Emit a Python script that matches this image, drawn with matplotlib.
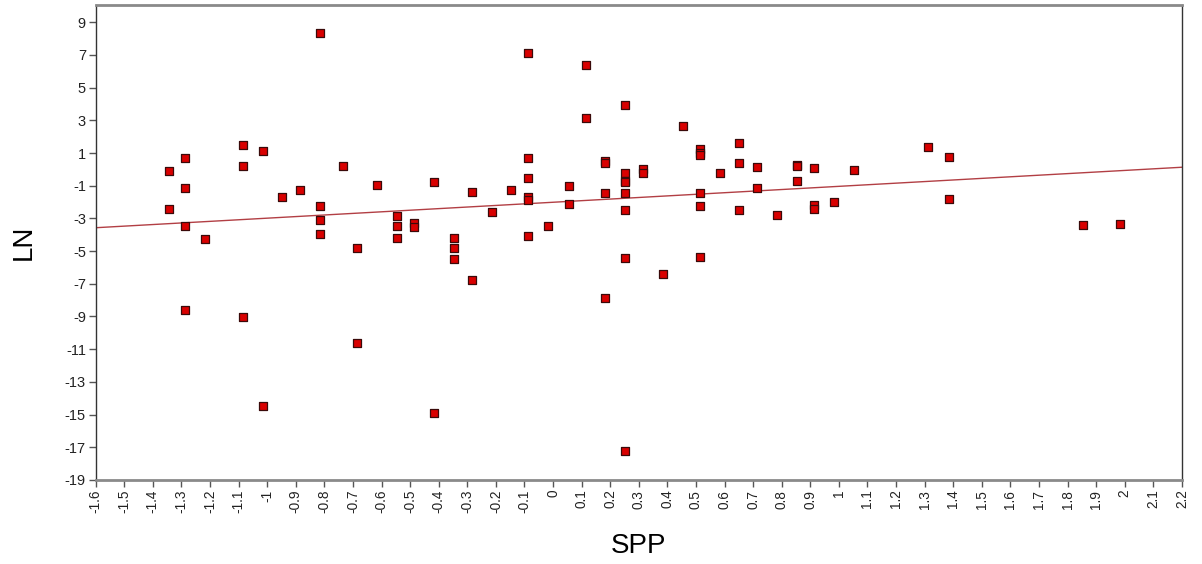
import matplotlib
matplotlib.use("Agg")
import matplotlib.pyplot as plt
import numpy as np

plt.rcParams['font.family'] = ['Liberation Sans', 'DejaVu Sans']
plt.rcParams['axes.unicode_minus'] = False

# Data
spp = [
    -1.345, -1.345,
    -1.288, -1.288, -1.288, -1.288,
    -1.216,
    -1.086, -1.086, -1.086,
    -1.015, -1.015,
    -0.948,
    -0.886,
    -0.815, -0.815, -0.815, -0.815,
    -0.734,
    -0.687, -0.687,
    -0.616,
    -0.545, -0.545, -0.545,
    -0.485, -0.485,
    -0.416, -0.416,
    -0.345, -0.345, -0.345,
    -0.285, -0.285,
    -0.215,
    -0.146,
    -0.088, -0.088, -0.088, -0.088, -0.088, -0.088,
    -0.016,
    0.055, 0.055,
    0.114, 0.114,
    0.183, 0.183, 0.183, 0.183,
    0.253, 0.253, 0.253, 0.253, 0.253, 0.253, 0.253, 0.253,
    0.315, 0.315,
    0.384,
    0.453,
    0.514, 0.514, 0.514, 0.514, 0.514, 0.514,
    0.583,
    0.652, 0.652, 0.652,
    0.712, 0.712,
    0.782,
    0.854, 0.854, 0.854,
    0.912, 0.912, 0.912,
    0.983,
    1.053,
    1.312,
    1.385, 1.385,
    1.855,
    1.984,
]
ln = [
    -0.08, -2.45,
    0.68, -1.16, -3.45, -8.6,
    -4.28,
    1.52, 0.19, -9.05,
    1.13, -14.5,
    -1.66,
    -1.27,
    8.35, -2.23, -3.12, -3.97,
    0.19,
    -4.81, -10.62,
    -0.93,
    -2.84, -3.47, -4.18,
    -3.26, -3.55,
    -0.77, -14.9,
    -4.18, -4.81, -5.48,
    -1.40, -6.75,
    -2.61,
    -1.27,
    7.11, 0.69, -0.55, -1.69, -1.90, -4.07,
    -3.45,
    -0.99, -2.10,
    6.38, 3.15,
    0.54, 0.41, -1.43, -7.85,
    3.94, -0.20, -0.70, -0.80, -1.44, -2.49, -5.45, -17.25,
    0.00, -0.23,
    -6.41,
    2.64,
    1.22, 1.00, 0.86, -1.44, -2.27, -5.35,
    -0.20,
    1.64, 0.36, -2.49,
    0.14, -1.16,
    -2.78,
    0.25, 0.18, -0.70,
    0.07, -2.18, -2.43,
    -1.98,
    -0.03,
    1.37,
    0.75, -1.83,
    -3.41,
    -3.36,
]
fit_x = [-1.6, 2.2]
fit_y = [-3.57, 0.13]

x_ticks = [round(v, 1) for v in np.arange(-1.6, 2.21, 0.1)]
y_ticks = list(range(-19, 10, 2))

def fmt(v):
    s = ('%.1f' % v).rstrip('0').rstrip('.')
    if s == '-0':
        s = '0'
    return s

fig = plt.figure(figsize=(12.02, 5.64), dpi=100)
ax = fig.add_axes([0.0796, 0.149, 0.9037, 0.842])

ax.plot(fit_x, fit_y, color='#b23f44', linewidth=1.0, zorder=2)
ax.scatter(spp, ln, marker='s', s=30, facecolor='#d90000', edgecolor='#3a0a0a',
           linewidths=0.9, zorder=3)

ax.set_xlim(-1.6, 2.2)
ax.set_ylim(-19, 10.05)
ax.set_xticks(x_ticks)
ax.set_xticklabels([fmt(v) for v in x_ticks], rotation=90, fontsize=9.8, color='#222222')
ax.set_yticks(y_ticks)
ax.set_yticklabels([str(v) for v in y_ticks], fontsize=10.5, color='#222222')

ax.tick_params(axis='both', direction='out', length=5, width=1.0, color='#555555', pad=2)

for side in ['top', 'bottom']:
    ax.spines[side].set_color('#8a8a8a')
    ax.spines[side].set_linewidth(2.0)
for side in ['left', 'right']:
    ax.spines[side].set_color('#333333')
    ax.spines[side].set_linewidth(1.0)

ax.set_xlabel('SPP', fontsize=20, labelpad=14)
ax.set_ylabel('LN', fontsize=20, labelpad=20)

fig.savefig('out.png', dpi=100, facecolor='white')
